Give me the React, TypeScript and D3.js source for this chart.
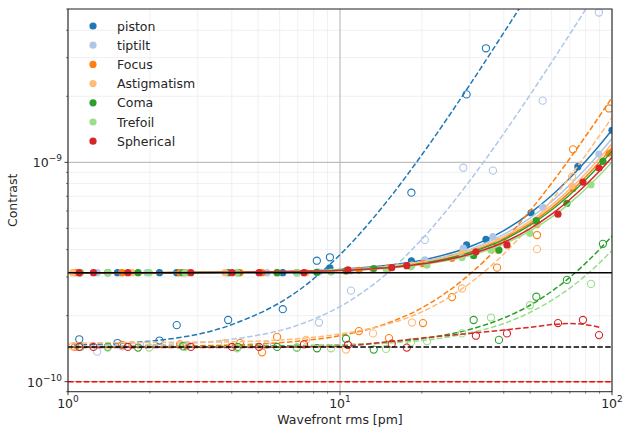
import React from 'react';
import * as d3 from 'd3';

// contrast values are in units of 1e-10, wavefront rms in pm
const seriesNames = ['piston', 'tiptilt', 'Focus', 'Astigmatism', 'Coma', 'Trefoil', 'Spherical'];
const seriesColors = ['#1f77b4', '#aec7e8', '#ff7f0e', '#ffbb78', '#2ca02c', '#98df8a', '#d62728'];

const pistonX = [1.10, 1.52, 2.17, 2.51, 3.88, 6.16, 8.22, 9.18, 18.3, 29.2, 34.4, 50.4, 74.9, 100];
const pistonFilled = [3.14, 3.14, 3.14, 3.14, 3.14, 3.14, 3.15, 3.30, 3.55, 4.20, 4.45, 5.89, 9.55, 14.0];
const pistonOpen = [1.56, 1.50, 1.54, 1.81, 1.91, 2.14, 3.56, 3.69, 7.27, 20.4, 33.1, null, null, null];

const tiptiltX = [1.28, 1.58, 1.95, 2.74, 5.39, 8.37, 10.97, 20.5, 28.4, 36.5, 55.6, 89.5];
const tiptiltFilled = [3.14, 3.14, 3.14, 3.14, 3.14, 3.16, 3.20, 3.59, 4.06, 4.58, 6.25, 10.9];
const tiptiltOpen = [1.37, 1.45, 1.48, 1.47, 1.47, 1.86, 2.60, 4.43, 9.45, 9.16, 19.1, 48.2];

const focusX = [1.06, 1.58, 2.58, 4.29, 5.17, 5.87, 11.74, 15.14, 20.19, 25.8, 37.8, 53.0, 71.9, 97.5];
const focusFilled = [3.14, 3.14, 3.14, 3.14, 3.14, 3.14, 3.22, 3.30, 3.45, 3.65, 4.15, 5.2, 7.6, 11.0];
const focusOpen = [1.44, 1.47, 1.48, 1.50, 1.36, 1.60, 1.70, 1.58, 1.85, 2.43, 3.31, 4.66, 11.46, 17.6];

const astigX = [1.04, 1.40, 1.72, 2.72, 3.78, 7.50, 10.52, 13.22, 18.39, 28.09, 38.1, 53.0, 71.3];
const astigFilled = [3.14, 3.14, 3.14, 3.14, 3.14, 3.14, 3.18, 3.24, 3.40, 3.85, 4.35, 5.25, 7.8];
const astigOpen = [1.45, 1.44, 1.47, 1.46, 1.50, 1.55, 1.40, 1.66, 1.86, 2.66, 3.98, 4.02, 8.6];

const comaX = [1.11, 1.40, 1.81, 2.65, 4.21, 5.87, 6.94, 8.23, 10.52, 13.3, 31.0, 38.4, 52.7, 68.3, 92.6];
const comaFilled = [3.14, 3.14, 3.14, 3.14, 3.14, 3.14, 3.14, 3.15, 3.20, 3.28, 3.75, 3.98, 5.42, 6.5, 10.1];
const comaOpen = [1.44, 1.44, 1.43, 1.45, 1.44, 1.44, 1.43, 1.42, 1.57, 1.40, 1.91, 1.55, 2.44, 2.91, 4.25];

const trefoilX = [1.11, 1.40, 1.99, 2.69, 4.18, 6.94, 9.27, 14.76, 18.24, 20.89, 28.09, 35.9, 49.9, 83.7];
const trefoilFilled = [3.14, 3.14, 3.14, 3.14, 3.14, 3.14, 3.16, 3.26, 3.34, 3.40, 3.68, 3.98, 4.75, 7.9];
const trefoilOpen = [1.44, 1.43, 1.43, 1.44, 1.42, 1.43, 1.42, 1.41, 1.51, 1.53, 1.66, 1.96, 2.23, 2.79];

const sphericalX = [1.10, 1.24, 1.66, 2.83, 4.01, 5.04, 7.37, 10.7, 15.5, 17.6, 31.6, 41.1, 63.3, 78.2, 89.6];
const sphericalFilled = [3.14, 3.14, 3.14, 3.14, 3.14, 3.14, 3.14, 3.23, 3.31, 3.38, 3.91, 4.20, 5.80, 8.13, 9.42];
const sphericalOpen = [1.44, 1.44, 1.44, 1.44, 1.44, 1.44, 1.48, 1.47, 1.49, 1.43, 1.62, 1.66, 1.85, 1.91, 1.63];

// fit curves at these wavefront values
const fitX = [1.05, 2, 4, 7, 10, 15, 20, 30, 40, 50, 60, 70, 80, 90, 100, 110];
const solidFits = [
  [3.14, 3.14, 3.16, 3.19, 3.25, 3.39, 3.58, 4.12, 4.88, 5.87, 7.06, 8.48, 10.12, 11.97, 14.04, 16.33],
  [3.14, 3.14, 3.16, 3.19, 3.24, 3.36, 3.53, 4.01, 4.69, 5.57, 6.63, 7.89, 9.35, 11.0, 12.84, 14.88],
  [3.14, 3.14, 3.15, 3.18, 3.23, 3.33, 3.48, 3.91, 4.5, 5.27, 6.2, 7.31, 8.58, 10.03, 11.64, 13.43],
  [3.14, 3.14, 3.15, 3.18, 3.23, 3.34, 3.5, 3.95, 4.58, 5.39, 6.38, 7.55, 8.9, 10.43, 12.14, 14.03],
  [3.14, 3.14, 3.15, 3.18, 3.22, 3.32, 3.46, 3.87, 4.44, 5.17, 6.06, 7.11, 8.32, 9.7, 11.24, 12.94],
  [3.14, 3.14, 3.15, 3.17, 3.21, 3.30, 3.42, 3.76, 4.24, 4.87, 5.62, 6.52, 7.56, 8.73, 10.04, 11.49],
  [3.14, 3.14, 3.15, 3.18, 3.21, 3.31, 3.44, 3.81, 4.32, 4.99, 5.80, 6.77, 7.88, 9.13, 10.54, 12.09],
];
const dashedFits = [
  [1.47, 1.53, 1.82, 2.59, 3.79, 6.72, 10.82, 22.55, 38.98, 60.09, 85.9, null, null, null, null, null],
  [1.45, 1.47, 1.56, 1.81, 2.20, 3.14, 4.46, 8.24, 13.52, 20.32, 28.62, 38.44, 49.76, 62.6, null, null],
  [1.44, 1.45, 1.47, 1.53, 1.62, 1.85, 2.17, 3.09, 4.37, 6.02, 8.03, 10.41, 13.15, 16.26, 19.74, null],
  [1.50, 1.51, 1.52, 1.57, 1.65, 1.83, 2.08, 2.81, 3.82, 5.13, 6.72, 8.61, 10.78, 13.25, 16.0, null],
  [1.44, 1.44, 1.45, 1.46, 1.47, 1.51, 1.57, 1.73, 1.95, 2.23, 2.58, 2.99, 3.47, 4.01, 4.61, null],
  [1.44, 1.44, 1.44, 1.45, 1.47, 1.50, 1.54, 1.67, 1.84, 2.07, 2.35, 2.67, 3.05, 3.48, 3.96, null],
  [1.43, 1.43, 1.43, 1.44, 1.45, 1.52, 1.58, 1.66, 1.72, 1.77, 1.82, 1.84, 1.82, 1.77, null, null],
];

const referenceLevels = [3.14, 1.44, 1.0];

const allX = [pistonX, tiptiltX, focusX, astigX, comaX, trefoilX, sphericalX];
const allFilled = [pistonFilled, tiptiltFilled, focusFilled, astigFilled, comaFilled, trefoilFilled, sphericalFilled];
const allOpen = [pistonOpen, tiptiltOpen, focusOpen, astigOpen, comaOpen, trefoilOpen, sphericalOpen];

const FONT = '"DejaVu Sans", sans-serif';

export default function App() {
  const width = 623;
  const height = 428;
  const left = 68, right = 612, top = 9, bottom = 391.7;

  const x = d3.scaleLog().domain([1, 100]).range([left, right]);
  const y = d3.scaleLog().domain([0.9, 50]).range([bottom, top]);

  const isMajor = (v: number) => Math.abs(Math.log10(v) - Math.round(Math.log10(v))) < 1e-9;
  const xTicks = x.ticks();
  const yTicks = y.ticks().filter(v => v >= 0.9 && v <= 50);

  const line = d3.line<[number, number | null]>()
    .defined(d => d[1] != null)
    .x(d => x(d[0]))
    .y(d => y(d[1] as number))
    .curve(d3.curveMonotoneX);

  const refStyles = [
    { stroke: '#000', dash: undefined },
    { stroke: '#000', dash: '5.5,2.4' },
    { stroke: '#ff0000', dash: '5.5,2.4' },
  ];

  const xExp: Record<number, string> = { 1: '0', 10: '1', 100: '2' };
  const yExp: Record<number, string> = { 1: '\u221210', 10: '\u22129' };

  return (
    <svg width={width} height={height} style={{ position: 'absolute', left: 0, top: 0, background: '#fff' }}
      fontFamily={FONT}>
      <defs>
        <clipPath id="plot">
          <rect x={left} y={top} width={right - left} height={bottom - top} />
        </clipPath>
      </defs>
      <rect x={0} y={0} width={width} height={height} fill="#fff" />

      {/* minor grid */}
      <g>
        {xTicks.filter(v => !isMajor(v)).map(v => (
          <line key={'xg' + v} x1={x(v)} x2={x(v)} y1={top} y2={bottom} stroke="#ececec" strokeWidth={0.8} />
        ))}
        {yTicks.filter(v => !isMajor(v)).map(v => (
          <line key={'yg' + v} x1={left} x2={right} y1={y(v)} y2={y(v)} stroke="#ececec" strokeWidth={0.8} />
        ))}
      </g>
      {/* major grid */}
      <g>
        {xTicks.filter(isMajor).map(v => (
          <line key={'xG' + v} x1={x(v)} x2={x(v)} y1={top} y2={bottom} stroke="#b0b0b0" strokeWidth={1} />
        ))}
        {yTicks.filter(isMajor).map(v => (
          <line key={'yG' + v} x1={left} x2={right} y1={y(v)} y2={y(v)} stroke="#b0b0b0" strokeWidth={1} />
        ))}
      </g>

      <g clipPath="url(#plot)">
        {seriesNames.map((name, i) => {
          const color = seriesColors[i];
          const solid = fitX.map((v, j) => [v, solidFits[i][j]] as [number, number | null]);
          const dashed = fitX.map((v, j) => [v, dashedFits[i][j]] as [number, number | null]);
          return (
            <g key={name}>
              <path d={line(solid) || ''} fill="none" stroke={color} strokeWidth={1.5} />
              <path d={line(dashed) || ''} fill="none" stroke={color} strokeWidth={1.5} strokeDasharray="5.5,2.4" />
              {allX[i].map((v, j) => (
                <circle key={'f' + j} cx={x(v)} cy={y(allFilled[i][j])} r={3.6} fill={color} />
              ))}
              {allX[i].map((v, j) => allOpen[i][j] == null ? null : (
                <circle key={'o' + j} cx={x(v)} cy={y(allOpen[i][j] as number)} r={3.6}
                  fill="none" stroke={color} strokeWidth={1.1} />
              ))}
            </g>
          );
        })}
        {referenceLevels.map((v, i) => (
          <line key={'ref' + i} x1={left} x2={right} y1={y(v)} y2={y(v)}
            stroke={refStyles[i].stroke} strokeWidth={1.5} strokeDasharray={refStyles[i].dash} />
        ))}
      </g>

      {/* spines */}
      <rect x={left} y={top} width={right - left} height={bottom - top} fill="none" stroke="#262626" strokeWidth={1} />

      {/* x ticks */}
      <g>
        {xTicks.map(v => (
          <line key={'xt' + v} x1={x(v)} x2={x(v)} y1={bottom} y2={bottom + (isMajor(v) ? 3.5 : 2)}
            stroke="#262626" strokeWidth={isMajor(v) ? 0.9 : 0.6} />
        ))}
        {xTicks.filter(isMajor).map(v => (
          <text key={'xl' + v} x={x(v)} y={408} textAnchor="middle" fontSize={12.5} fill="#262626">
            10<tspan dy={-6} fontSize={9}>{xExp[v]}</tspan>
          </text>
        ))}
      </g>
      {/* y ticks */}
      <g>
        {yTicks.map(v => (
          <line key={'yt' + v} x1={left} x2={left - (isMajor(v) ? 3.5 : 2)} y1={y(v)} y2={y(v)}
            stroke="#262626" strokeWidth={isMajor(v) ? 0.9 : 0.6} />
        ))}
        {yTicks.filter(isMajor).map(v => (
          <text key={'yl' + v} x={62} y={y(v) + 5} textAnchor="end" fontSize={12.5} fill="#262626">
            10<tspan dy={-6} fontSize={9}>{yExp[v]}</tspan>
          </text>
        ))}
      </g>

      <text x={(left + right) / 2} y={424} textAnchor="middle" fontSize={12.5} fill="#262626">Wavefront rms [pm]</text>
      <text transform={`translate(17,${(top + bottom) / 2}) rotate(-90)`} textAnchor="middle" fontSize={12.5} fill="#262626">Contrast</text>

      {/* legend */}
      <g>
        {seriesNames.map((name, i) => (
          <g key={'lg' + name} transform={`translate(93,${26 + i * 19.2})`}>
            <circle cx={0} cy={0} r={3.6} fill={seriesColors[i]} />
            <text x={24} y={4.5} fontSize={12.5} fill="#262626">{name}</text>
          </g>
        ))}
      </g>
    </svg>
  );
}
